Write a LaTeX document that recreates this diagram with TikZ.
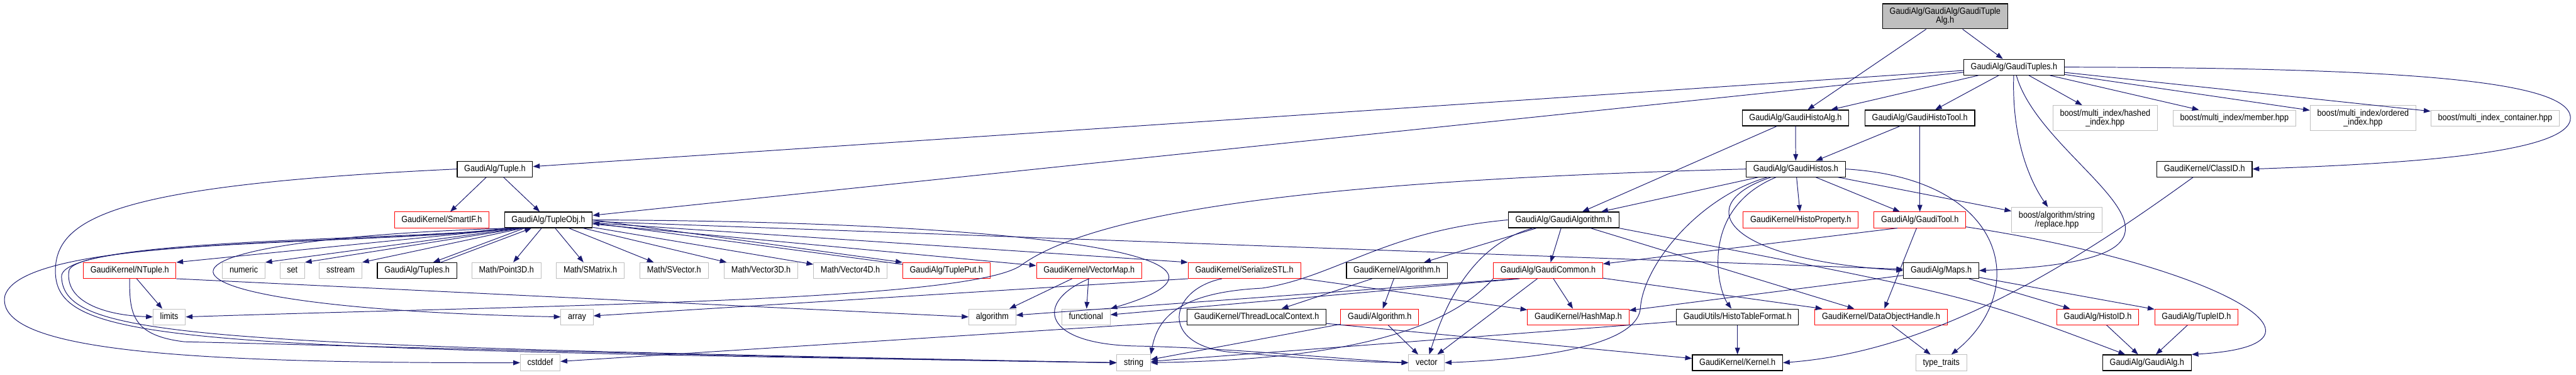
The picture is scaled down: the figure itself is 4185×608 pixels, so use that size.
\documentclass[tikz,border=0pt]{standalone}
\usepackage{fontspec}
\usetikzlibrary{arrows.meta}

\newfontfamily\dxfamily{Liberation Sans}[FakeStretch=0.88]
\newcommand\dxfont{\dxfamily\fontsize{14.7pt}{14pt}\selectfont}

\definecolor{depblue}{HTML}{191970}
\definecolor{extgray}{HTML}{BFBFBF}

\tikzset{
  hdr/.style={rectangle, draw, line width=1pt, inner xsep=11.5pt, inner ysep=0pt,
    minimum height=25.6pt, text height=10.5pt, text depth=3pt, font=\dxfont},
  twoline/.style={align=center, minimum height=40.7pt, text height={}, text depth={}},
  doc/.style={hdr, draw=black, line width=1.2pt},
  nodoc/.style={hdr, draw=red},
  ext/.style={hdr, draw=extgray},
  dep/.style={draw=depblue, line width=1pt, -{Triangle[length=11pt,width=8pt]}}
}

\begin{document}
\begin{tikzpicture}[x=1pt, y=-1pt]
  \useasboundingbox (0,0) rectangle (4185,608);

  % the file itself
  \node[doc, twoline, fill=extgray] (tuplealg) at (3160,26.5) {GaudiAlg/GaudiAlg/GaudiTuple\\Alg.h};

  % first and second level includes
  \node[doc] (gtuples) at (3272,109) {GaudiAlg/GaudiTuples.h};
  \node[doc] (histoalg) at (2917,191.6) {GaudiAlg/GaudiHistoAlg.h};
  \node[doc] (histotool) at (3119,191.6) {GaudiAlg/GaudiHistoTool.h};
  \node[ext, twoline] (hashed) at (3420,191.6) {boost/multi\_index/hashed\\\_index.hpp};
  \node[ext] (member) at (3630,191.6) {boost/multi\_index/member.hpp};
  \node[ext, twoline] (ordered) at (3839,191.6) {boost/multi\_index/ordered\\\_index.hpp};
  \node[ext] (mcont) at (4053.5,191.6) {boost/multi\_index\_container.hpp};

  \node[doc] (tuple) at (804,274.5) {GaudiAlg/Tuple.h};
  \node[doc] (histos) at (2917.4,274.5) {GaudiAlg/GaudiHistos.h};
  \node[doc] (classid) at (3581.4,274.5) {GaudiKernel/ClassID.h};

  \node[nodoc] (smartif) at (717.6,357.1) {GaudiKernel/SmartIF.h};
  \node[doc] (tobj) at (890.9,357.1) {GaudiAlg/TupleObj.h};
  \node[doc] (galgo) at (2540.2,357.1) {GaudiAlg/GaudiAlgorithm.h};
  \node[nodoc] (hprop) at (2925.4,357.1) {GaudiKernel/HistoProperty.h};
  \node[nodoc] (gtool) at (3119,357.1) {GaudiAlg/GaudiTool.h};
  \node[ext, twoline] (replace) at (3341.5,357.1) {boost/algorithm/string\\/replace.hpp};

  % row under TupleObj.h
  \node[nodoc] (ntuple) at (210.7,439.3) {GaudiKernel/NTuple.h};
  \node[ext] (numeric) at (396,439.3) {numeric};
  \node[ext] (stdset) at (474.8,439.3) {set};
  \node[ext] (sstream) at (553.4,439.3) {sstream};
  \node[doc] (tuples) at (677.5,439.3) {GaudiAlg/Tuples.h};
  \node[ext] (point) at (822.8,439.3) {Math/Point3D.h};
  \node[ext] (smatrix) at (959,439.3) {Math/SMatrix.h};
  \node[ext] (svector) at (1095.1,439.3) {Math/SVector.h};
  \node[ext] (vecthree) at (1236.4,439.3) {Math/Vector3D.h};
  \node[ext] (vecfour) at (1381.5,439.3) {Math/Vector4D.h};
  \node[nodoc] (tput) at (1537.5,439.3) {GaudiAlg/TuplePut.h};
  \node[nodoc] (vmap) at (1769.4,439.3) {GaudiKernel/VectorMap.h};
  \node[nodoc] (sstl) at (2021.6,439.3) {GaudiKernel/SerializeSTL.h};
  \node[doc] (kalgo) at (2269.4,439.3) {GaudiKernel/Algorithm.h};
  \node[nodoc] (gcommon) at (2515,439.3) {GaudiAlg/GaudiCommon.h};
  \node[doc] (maps) at (3153.6,439.3) {GaudiAlg/Maps.h};

  \node[ext] (limits) at (275,514.6) {limits};
  \node[ext] (array) at (937.5,514.6) {array};
  \node[ext] (stdalgo) at (1612.1,514.6) {algorithm};
  \node[ext] (functional) at (1764.3,514.6) {functional};
  \node[doc] (tlc) at (2041.5,514.6) {GaudiKernel/ThreadLocalContext.h};
  \node[nodoc] (gaudialgo) at (2241.5,514.6) {Gaudi/Algorithm.h};
  \node[nodoc] (hashmap) at (2564,514.6) {GaudiKernel/HashMap.h};
  \node[doc] (htf) at (2822.7,514.6) {GaudiUtils/HistoTableFormat.h};
  \node[nodoc] (doh) at (3056,514.6) {GaudiKernel/DataObjectHandle.h};
  \node[nodoc] (histoid) at (3408,514.6) {GaudiAlg/HistoID.h};
  \node[nodoc] (tupleid) at (3568.3,514.6) {GaudiAlg/TupleID.h};

  % bottom row
  \node[ext] (cstddef) at (877.7,589) {cstddef};
  \node[ext] (str) at (1841.8,589) {string};
  \node[ext] (vec) at (2317.6,589) {vector};
  \node[doc] (kernel) at (2822.7,589) {GaudiKernel/Kernel.h};
  \node[ext] (ttraits) at (3153.8,589) {type\_traits};
  \node[doc] (galg) at (3488,589) {GaudiAlg/GaudiAlg.h};

  % includes of the file and of GaudiTuples.h
  \draw[dep] (tuplealg) -- (histoalg);
  \draw[dep] (tuplealg) -- (gtuples);
  \draw[dep] (gtuples) -- (tuple);
  \draw[dep] (gtuples) -- (tobj);
  \draw[dep] (gtuples) -- (histoalg);
  \draw[dep] (gtuples) -- (histotool);
  \draw[dep] (gtuples) -- (hashed);
  \draw[dep] (gtuples) -- (member);
  \draw[dep] (gtuples) -- (ordered);
  \draw[dep] (gtuples) -- (mcont);
  \draw[dep] (gtuples) .. controls (3268,220) and (3295,290) .. (replace);
  \draw[dep] (gtuples) .. controls (3320,280) and (3680,420) .. (maps.east);
  \draw[dep] (gtuples.east) .. controls (3900,110) and (4170,130) .. (4176,190)
    .. controls (4180,250) and (3900,266) .. (classid.east);

  % histo side
  \draw[dep] (histoalg) -- (histos);
  \draw[dep] (histoalg) -- (galgo);
  \draw[dep] (histotool) -- (histos);
  \draw[dep] (histotool) -- (gtool);
  \draw[dep] (histos) -- (galgo);
  \draw[dep] (histos) -- (hprop);
  \draw[dep] (histos) -- (gtool);
  \draw[dep] (histos) -- (replace);
  \draw[dep] (histos.east) .. controls (3260,290) and (3300,470) .. (ttraits);
  \draw[dep] (histos) .. controls (2750,330) and (2790,420) .. (maps.west);
  \draw[dep] (histos) .. controls (2760,340) and (2790,470) .. (htf);
  \draw[dep] (histos) .. controls (2760,320) and (2670,430) .. (2665,500)
    .. controls (2660,570) and (2450,585) .. (vec.east);
  \draw[dep] (histos.west) .. controls (2250,290) and (1800,330) .. (1660,430)
    .. controls (1580,490) and (900,495) .. (limits.east);
  \draw[dep] (classid) .. controls (3380,420) and (3150,570) .. (kernel.east);

  % Tuple.h and TupleObj.h
  \draw[dep] (tuple) -- (smartif);
  \draw[dep] (tuple) -- (tobj);
  \draw[dep] (tuple.west) .. controls (200,300) and (90,350) .. (90,440)
    .. controls (90,560) and (300,565) .. (str.west);
  \draw[dep] (tobj.191) .. controls (600,400) and (40,380) .. (8,480)
    .. controls (-10,570) and (300,590) .. (cstddef.west);
  \draw[dep] (tobj.192) .. controls (150,392) and (200,500) .. (array.west);
  \draw[dep] (tobj.193) .. controls (650,395) and (120,390) .. (112,440)
    .. controls (105,490) and (170,512) .. (limits.west);
  \draw[dep] (tobj.194) .. controls (650,392) and (95,385) .. (100,450)
    .. controls (105,550) and (320,560) .. (str.west);
  \draw[dep] (tobj.195) -- (ntuple.north east);
  \draw[dep] (tobj.196) -- (numeric.north east);
  \draw[dep] (tobj.197) -- (stdset.north east);
  \draw[dep] (tobj.198) -- (sstream.north east);
  \draw[dep] (tobj.199) -- (tuples.27);
  \draw[dep] (tuples.19) -- (tobj.206);
  \draw[dep] (tobj) -- (point);
  \draw[dep] (tobj) -- (smatrix);
  \draw[dep] (tobj) -- (svector);
  \draw[dep] (tobj) -- (vecthree);
  \draw[dep] (tobj) -- (vecfour);
  \draw[dep] (tobj.east) -- (tput.north west);
  \draw[dep] (tput.172) -- (tobj.356);
  \draw[dep] (tobj) -- (vmap);
  \draw[dep] (tobj) -- (sstl.north west);
  \draw[dep] (tobj.east) .. controls (1700,360) and (2080,420) .. (functional.north east);
  \draw[dep] (tobj) -- (maps);

  % NTuple.h, VectorMap.h, SerializeSTL.h
  \draw[dep] (ntuple) -- (limits);
  \draw[dep] (ntuple.south east) -- (stdalgo.west);
  \draw[dep] (ntuple.south) .. controls (210,510) and (215,545) .. (300,555)
    .. controls (600,562) and (1200,580) .. (str.west);
  \draw[dep] (vmap) -- (stdalgo);
  \draw[dep] (vmap) -- (functional);
  \draw[dep] (vmap.south) .. controls (1680,490) and (1690,560) .. (1850,562)
    .. controls (2000,565) and (2200,585) .. (vec.west);
  \draw[dep] (sstl.south west) -- (array);
  \draw[dep] (sstl) -- (hashmap);
  \draw[dep] (sstl.200) .. controls (1900,470) and (1880,560) .. (2000,572)
    .. controls (2100,580) and (2200,588) .. (vec.west);

  % GaudiAlgorithm.h, GaudiTool.h, GaudiCommon.h
  \draw[dep] (galgo) -- (kalgo);
  \draw[dep] (galgo) -- (gcommon);
  \draw[dep] (galgo) -- (doh);
  \draw[dep] (galgo.south east) .. controls (3200,480) .. (galg);
  \draw[dep] (galgo) .. controls (2380,400) and (2340,520) .. (vec);
  \draw[dep] (galgo.west) .. controls (2250,375) and (2170,450) .. (2050,468)
    .. controls (1910,475) and (1880,520) .. (str.north east);
  \draw[dep] (gtool.200) -- (gcommon);
  \draw[dep] (gtool) -- (doh);
  \draw[dep] (gtool) .. controls (3600,430) and (3830,560) .. (galg.north east);
  \draw[dep] (gcommon) -- (hashmap);
  \draw[dep] (gcommon) -- (doh);
  \draw[dep] (gcommon.195) -- (stdalgo);
  \draw[dep] (gcommon.196) -- (functional);
  \draw[dep] (gcommon.south west) .. controls (2330,560) and (2100,585) .. (str.east);
  \draw[dep] (gcommon) -- (vec);

  % lower levels
  \draw[dep] (kalgo) -- (tlc);
  \draw[dep] (kalgo) -- (gaudialgo);
  \draw[dep] (tlc) -- (cstddef);
  \draw[dep] (tlc) -- (kernel);
  \draw[dep] (gaudialgo) -- (str);
  \draw[dep] (gaudialgo) -- (vec);
  \draw[dep] (htf) -- (kernel);
  \draw[dep] (htf) -- (str);
  \draw[dep] (maps) -- (hashmap);
  \draw[dep] (maps) -- (histoid);
  \draw[dep] (maps) -- (tupleid);
  \draw[dep] (doh) -- (ttraits);
  \draw[dep] (histoid) -- (galg);
  \draw[dep] (tupleid) -- (galg);
\end{tikzpicture}
\end{document}
